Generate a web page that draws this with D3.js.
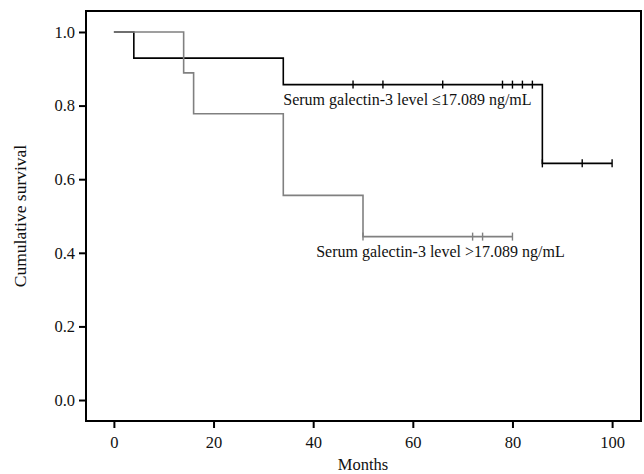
<!DOCTYPE html>
<html>
<head>
<meta charset="utf-8">
<script src="https://cdn.jsdelivr.net/npm/d3@7"></script>
<style>
  html, body { margin: 0; padding: 0; background: #fff; }
  svg text { font-family: "Liberation Serif", "DejaVu Serif", serif; fill: #111; }
</style>
</head>
<body>
<svg id="chart" width="644" height="474"></svg>
<script>
// ---- Data ----
const xTicks = [0, 20, 40, 60, 80, 100];
const yTicks = [0.0, 0.2, 0.4, 0.6, 0.8, 1.0];

const lowTimes = [0, 4, 34, 86];
const lowSurv = [1.0, 0.929, 0.857, 0.643];
const lowEnd = 100;
const lowCensor = [48, 54, 66, 78, 80, 82, 84, 86, 94, 100];

const highTimes = [0, 14, 16, 34, 50];
const highSurv = [1.0, 0.889, 0.778, 0.556, 0.444];
const highEnd = 80;
const highCensor = [50, 72, 74, 80];

const lowLabel = "Serum galectin-3 level \u226417.089 ng/mL";
const highLabel = "Serum galectin-3 level >17.089 ng/mL";

// ---- Chart ----
const svg = d3.select("#chart");
const frame = { left: 86, right: 641, top: 11, bottom: 421 };

const x = d3.scaleLinear().domain([-5.6, 105.8]).range([frame.left, frame.right]);
const y = d3.scaleLinear().domain([-0.057, 1.057]).range([frame.bottom, frame.top]);

// frame
svg.append("rect")
  .attr("x", frame.left).attr("y", frame.top)
  .attr("width", frame.right - frame.left).attr("height", frame.bottom - frame.top)
  .attr("fill", "none").attr("stroke", "#000").attr("stroke-width", 2);

// axes
const xAxis = d3.axisBottom(x).tickValues(xTicks).tickSize(7).tickPadding(4).tickFormat(d3.format("d"));
const yAxis = d3.axisLeft(y).tickValues(yTicks).tickSize(7).tickPadding(4).tickFormat(d3.format(".1f"));

const gx = svg.append("g").attr("transform", `translate(0,${frame.bottom})`).call(xAxis);
const gy = svg.append("g").attr("transform", `translate(${frame.left},0)`).call(yAxis);
[gx, gy].forEach(g => {
  g.select(".domain").remove();
  g.selectAll(".tick line").attr("stroke", "#000").attr("stroke-width", 2);
  g.selectAll(".tick text").style("font-size", "16.5px").attr("fill", "#111")
    .style("font-family", '"Liberation Serif", serif');
});
gx.selectAll(".tick text").attr("y", 15).attr("dy", "0.71em");

// axis titles
svg.append("text")
  .attr("x", (x(0) + x(100)) / 2).attr("y", 470)
  .attr("text-anchor", "middle").style("font-size", "16.5px").text("Months");
svg.append("text")
  .attr("transform", `translate(26,${y(0.5)}) rotate(-90)`)
  .attr("text-anchor", "middle").style("font-size", "17.5px").text("Cumulative survival");

// step curves
function stepPoints(times, surv, end) {
  const pts = times.map((t, i) => [t, surv[i]]);
  pts.push([end, surv[surv.length - 1]]);
  return pts;
}
function survAt(times, surv, t) {
  let s = surv[0];
  times.forEach((tt, i) => { if (tt <= t) s = surv[i]; });
  return s;
}
const line = d3.line().x(d => x(d[0])).y(d => y(d[1])).curve(d3.curveStepAfter);

const groups = [
  { times: lowTimes, surv: lowSurv, end: lowEnd, censor: lowCensor, color: "#000000" },
  { times: highTimes, surv: highSurv, end: highEnd, censor: highCensor, color: "#808080" }
];

groups.forEach(g => {
  svg.append("path")
    .attr("d", line(stepPoints(g.times, g.surv, g.end)))
    .attr("fill", "none").attr("stroke", g.color).attr("stroke-width", 1.6);
  svg.append("g").selectAll("line").data(g.censor).join("line")
    .attr("x1", d => x(d)).attr("x2", d => x(d))
    .attr("y1", d => y(survAt(g.times, g.surv, d)) - 4)
    .attr("y2", d => y(survAt(g.times, g.surv, d)) + 4)
    .attr("stroke", g.color).attr("stroke-width", 1.4);
});

// group labels
svg.append("text").attr("x", x(34)).attr("y", y(0.857) + 20)
  .style("font-size", "16px").text(lowLabel);
svg.append("text").attr("x", x(40.6)).attr("y", y(0.444) + 20)
  .style("font-size", "16px").text(highLabel);
</script>
</body>
</html>
